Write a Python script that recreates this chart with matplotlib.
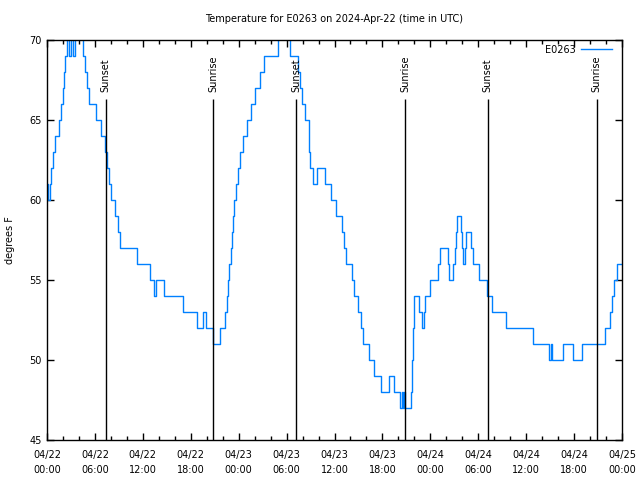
import matplotlib
matplotlib.use('Agg')
import matplotlib.pyplot as plt
import matplotlib.dates as mdates
from datetime import datetime, timedelta

start = datetime(2024, 4, 22)

# hours since 2024-04-22 00:00 UTC where the reading changes, and the reading (deg F)
hours = [0.0, 0.15, 0.4, 0.55, 0.7, 1.0, 1.5, 1.8, 1.95, 2.1, 2.3, 2.55, 2.8, 3.05, 3.25, 3.45,
         4.5, 4.7, 5.0, 5.3, 6.1, 6.7, 7.3, 7.5, 7.8, 8.0, 8.5, 8.85, 9.2, 11.3, 12.9, 13.45,
         13.65, 14.65, 17.05, 18.8, 19.55, 19.9, 20.8, 21.7, 22.3, 22.5, 22.65, 22.85, 23.0,
         23.15, 23.3, 23.45, 23.65, 23.95, 24.2, 24.6, 25.1, 25.5, 26.1, 26.7, 27.2, 28.9,
         30.4, 31.4, 31.7, 31.95, 32.35, 32.75, 32.85, 32.95, 33.3, 33.75, 34.8, 35.5, 36.25,
         36.95, 37.2, 37.45, 38.15, 38.5, 38.9, 39.3, 39.6, 40.3, 40.9, 41.85, 42.8, 43.5,
         44.2, 44.4, 44.55, 44.7, 44.8, 45.6, 45.75, 45.85, 45.9, 46.0, 46.6, 46.9, 47.15,
         47.3, 47.9, 49.0, 49.15, 50.15, 50.3, 50.85, 51.05, 51.2, 51.4, 51.8, 51.95, 52.15,
         52.3, 52.5, 53.15, 53.3, 54.15, 55.15, 55.7, 57.45, 60.85, 62.9, 63.05, 63.25,
         64.65, 65.85, 66.95, 69.85, 70.55, 70.8, 71.05, 71.4, 72.0]
temps = [61, 60, 61, 62, 63, 64, 65, 66, 67, 68, 69, 71, 69, 71, 69, 71,
         69, 68, 67, 66, 65, 64, 63, 62, 61, 60, 59, 58, 57, 56, 55, 54,
         55, 54, 53, 52, 53, 52, 51, 52, 53, 54, 55, 56, 57,
         58, 59, 60, 61, 62, 63, 64, 65, 66, 67, 68, 69, 71,
         69, 68, 67, 66, 65, 64, 63, 62, 61, 62, 61, 60, 59,
         58, 57, 56, 55, 54, 53, 52, 51, 50, 49, 48, 49, 48,
         47, 48, 47, 48, 47, 48, 50, 52, 53, 54, 53, 52, 53,
         54, 55, 56, 57, 56, 55, 56, 57, 58, 59, 58, 57, 56,
         57, 58, 57, 56, 55, 54, 53, 52, 51, 50, 51, 50,
         51, 50, 51, 52, 53, 54, 55, 56, 56]

sunset_hours = [7.33, 31.2, 55.2]
sunrise_hours = [20.83, 44.82, 68.83]

plt.rcParams['font.family'] = 'DejaVu Sans'
plt.rcParams['font.size'] = 7

fig = plt.figure(figsize=(6.4, 4.8), dpi=100)
ax = fig.add_axes([47 / 640, 1 - 440 / 480, 575 / 640, 400 / 480])

times = [start + timedelta(hours=h) for h in hours]
ax.plot(times, temps, drawstyle='steps-post', color='#0080ff', lw=1, label='E0263')

for name, hs in (('Sunset', sunset_hours), ('Sunrise', sunrise_hours)):
    for h in hs:
        t = start + timedelta(hours=h)
        ax.vlines(t, 45, 66.3, color='black', lw=1)
        ax.text(t, 66.75, name, rotation=90, ha='center', va='bottom', fontsize=7)

ax.set_xlim(start, start + timedelta(hours=72))
ax.set_ylim(45, 70)
ax.set_yticks([45, 50, 55, 60, 65, 70])
ax.xaxis.set_major_locator(mdates.HourLocator(byhour=[0, 6, 12, 18]))
ax.xaxis.set_minor_locator(mdates.HourLocator(byhour=range(0, 24, 2)))
ax.xaxis.set_major_formatter(mdates.DateFormatter('%m/%d\n%H:%M'))
ax.tick_params(which='both', direction='in', top=True, right=True, labelsize=7)
ax.tick_params(which='major', length=5, width=1)
ax.tick_params(which='minor', length=3, width=1)
ax.tick_params(axis='x', pad=7)
ax.tick_params(axis='y', pad=4)
for s in ax.spines.values():
    s.set_linewidth(1)

ax.set_ylabel('degrees F', fontsize=7)
ax.yaxis.set_label_coords(-0.056, 0.5)
fig.text(334 / 640, 1 - 19 / 480, 'Temperature for E0263 on 2024-Apr-22 (time in UTC)',
         ha='center', va='center', fontsize=7)

ax.legend(loc='upper right', bbox_to_anchor=(1.0, 1.013), frameon=False, markerfirst=False,
          handlelength=3.2, fontsize=7, borderaxespad=0.6, handletextpad=0.6)

fig.canvas.draw()
for lbl in ax.get_xticklabels():
    lbl.set_linespacing(1.7)

fig.savefig('out.png', dpi=100)
